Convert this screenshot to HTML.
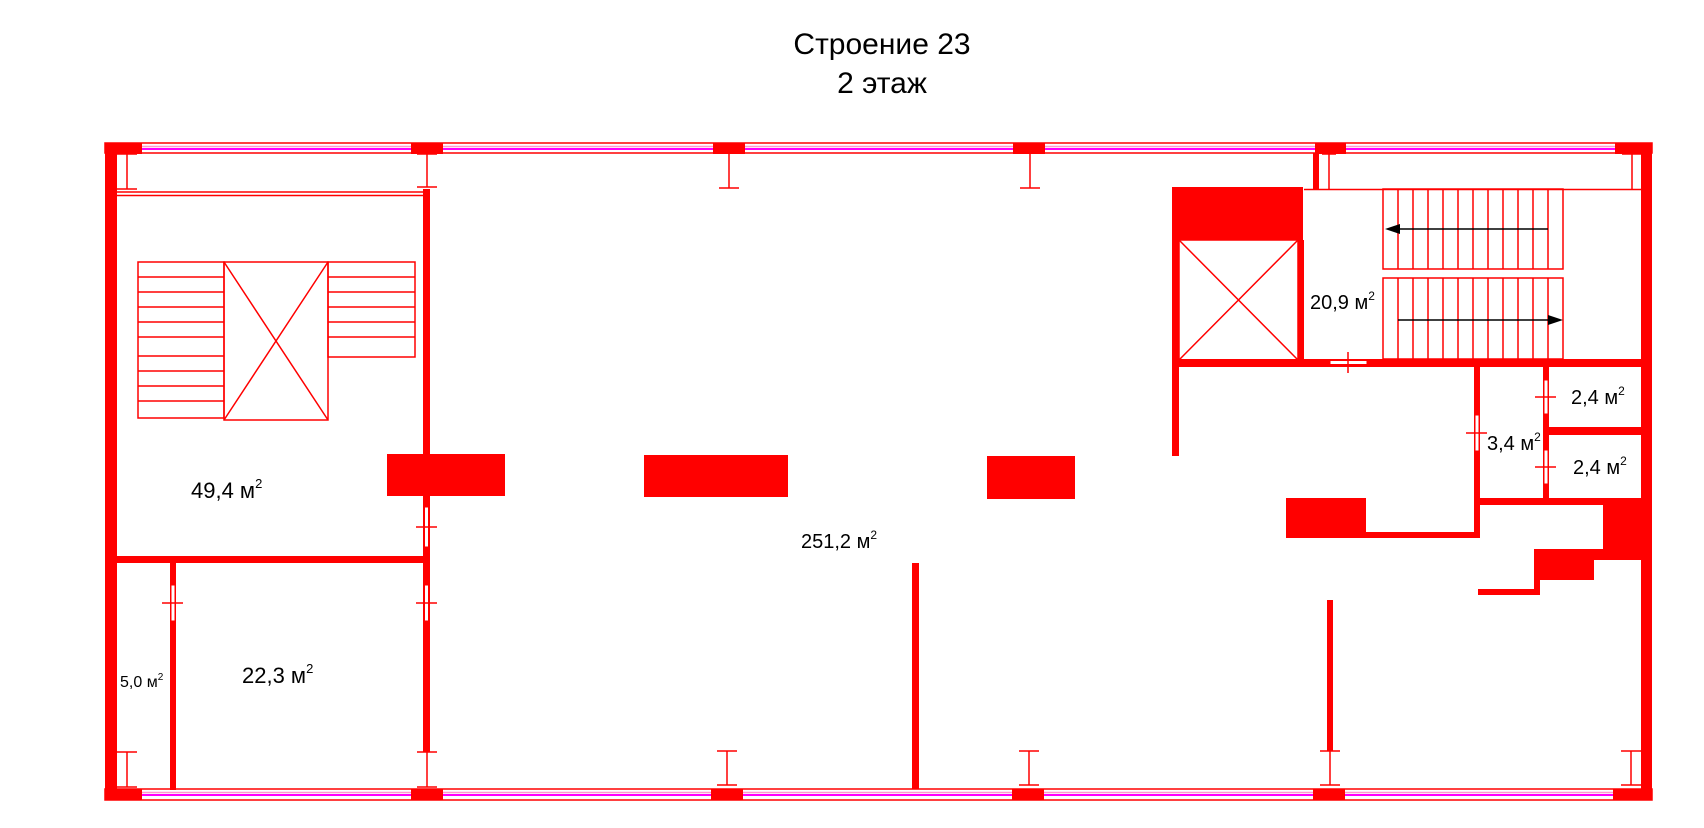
<!DOCTYPE html>
<html><head><meta charset="utf-8"><style>
html,body{margin:0;padding:0;background:#fff;}
svg{display:block;}
text{font-family:"Liberation Sans",sans-serif;fill:#000;}
</style></head><body>
<svg width="1704" height="828" viewBox="0 0 1704 828" xmlns="http://www.w3.org/2000/svg">
<text x="882" y="54" font-size="30" text-anchor="middle">Строение 23</text>
<text x="882" y="93" font-size="30" text-anchor="middle">2 этаж</text>

<g>
  <rect x="105" y="143" width="1547" height="10" fill="#fff" stroke="#f00" stroke-width="1.5"/>
  <line x1="105" y1="146.5" x2="1652" y2="146.5" stroke="#f9c" stroke-width="1.5"/>
  <line x1="105" y1="149" x2="1652" y2="149" stroke="#f0f" stroke-width="2"/>
  <rect x="105" y="789" width="1547" height="11" fill="#fff" stroke="#f00" stroke-width="1.5"/>
  <line x1="105" y1="792.5" x2="1652" y2="792.5" stroke="#f9c" stroke-width="1.5"/>
  <line x1="105" y1="795" x2="1652" y2="795" stroke="#f0f" stroke-width="2"/>
</g>
<g fill="#f00">
  <rect x="105" y="143" width="12" height="657"/>
  <rect x="1641" y="143" width="11" height="657"/>
  <rect x="105" y="143" width="37" height="11"/>
  <rect x="411" y="143" width="32" height="11"/>
  <rect x="713" y="143" width="32" height="11"/>
  <rect x="1013" y="143" width="32" height="11"/>
  <rect x="1315" y="143" width="31" height="11"/>
  <rect x="1615" y="143" width="37" height="11"/>
  <rect x="105" y="789" width="37" height="11"/>
  <rect x="411" y="789" width="32" height="11"/>
  <rect x="711" y="789" width="32" height="11"/>
  <rect x="1012" y="789" width="32" height="11"/>
  <rect x="1313" y="789" width="32" height="11"/>
  <rect x="1613" y="789" width="39" height="11"/>
  <rect x="387" y="454" width="118" height="42"/>
  <rect x="644" y="455" width="144" height="42"/>
  <rect x="987" y="456" width="88" height="43"/>
  <rect x="423" y="189" width="7" height="563"/>
  <rect x="117" y="556" width="313" height="7"/>
  <rect x="170" y="563" width="6" height="227"/>
  <rect x="912" y="563" width="7" height="226"/>
  <rect x="1327" y="600" width="6" height="151"/>
  <rect x="1313" y="153" width="6" height="36"/>
  <rect x="1172" y="187" width="131" height="53"/>
  <rect x="1172" y="187" width="7" height="269"/>
  <rect x="1298" y="240" width="6" height="120"/>
  <rect x="1172" y="359" width="469" height="8"/>
  <rect x="1474" y="367" width="6" height="171"/>
  <rect x="1543" y="367" width="6" height="138"/>
  <rect x="1549" y="427" width="92" height="8"/>
  <rect x="1480" y="498" width="161" height="7"/>
  <rect x="1366" y="532" width="114" height="6"/>
  <rect x="1286" y="498" width="80" height="40"/>
  <polygon points="1603,505 1641,505 1641,560 1594,560 1594,580 1540,580 1540,595 1478,595 1478,589 1534,589 1534,549 1603,549"/>
</g>
<g fill="none" stroke="#f00" stroke-width="1.5">
  <path d="M127 153V189M117 154H137M117 189H137"/>
  <path d="M427 154V187M417 154H437M417 187H437"/>
  <path d="M729 154V188M719 188H739"/>
  <path d="M1030 154V188M1020 188H1040"/>
  <path d="M1329 154V189M1322 154H1336"/>
  <path d="M1632 153V189M1622 154H1641"/>
  <path d="M127 752V787M117 752H137M117 787H137"/>
  <path d="M427 752V787M417 752H437M417 787H437"/>
  <path d="M727 751V785M717 751H737M717 785H737"/>
  <path d="M1029 751V785M1019 751H1039M1019 785H1039"/>
  <path d="M1330 751V785M1320 751H1340M1320 785H1340"/>
  <path d="M1631 751V785M1621 751H1641M1621 785H1641"/>
  <path d="M117 192H423M117 195.5H423"/>
  <rect x="138" y="262" width="86" height="156"/>
  <path d="M138 277H224M138 292H224M138 307H224M138 322H224M138 337H224M138 356H224M138 371H224M138 386H224M138 401H224"/>
  <rect x="224" y="262" width="104" height="158"/>
  <path d="M224 262L328 420M328 262L224 420"/>
  <rect x="328" y="262" width="87" height="95"/>
  <path d="M328 277H415M328 292H415M328 307H415M328 322H415M328 337H415"/>
  <rect x="1179" y="240" width="119" height="120"/>
  <path d="M1179 240L1298 360M1298 240L1179 360"/>
  <path d="M1304 189.5H1641"/>
  <rect x="1383" y="189" width="180" height="80"/>
  <rect x="1383" y="278" width="180" height="81"/>
  <path d="M1398 189V269M1413 189V269M1428 189V269M1443 189V269M1458 189V269M1473 189V269M1488 189V269M1503 189V269M1518 189V269M1533 189V269M1548 189V269"/>
  <path d="M1398 278V359M1413 278V359M1428 278V359M1443 278V359M1458 278V359M1473 278V359M1488 278V359M1503 278V359M1518 278V359M1533 278V359M1548 278V359"/>
</g>
<g>
  <rect x="424.5" y="507" width="4" height="40" fill="#fff" stroke="#f00" stroke-width="1"/>
  <line x1="416" y1="527" x2="437" y2="527" stroke="#f00" stroke-width="1.5"/>
  <rect x="424.5" y="585" width="4" height="36" fill="#fff" stroke="#f00" stroke-width="1"/>
  <line x1="416" y1="603" x2="437" y2="603" stroke="#f00" stroke-width="1.5"/>
  <rect x="171" y="585" width="4" height="36" fill="#fff" stroke="#f00" stroke-width="1"/>
  <line x1="162" y1="603" x2="183" y2="603" stroke="#f00" stroke-width="1.5"/>
  <rect x="1330" y="360.5" width="37" height="4" fill="#fff" stroke="#f00" stroke-width="1"/>
  <line x1="1348" y1="352" x2="1348" y2="373" stroke="#f00" stroke-width="1.5"/>
  <rect x="1475" y="415" width="4" height="36" fill="#fff" stroke="#f00" stroke-width="1"/>
  <line x1="1466" y1="433" x2="1487" y2="433" stroke="#f00" stroke-width="1.5"/>
  <rect x="1544" y="380" width="4" height="34" fill="#fff" stroke="#f00" stroke-width="1"/>
  <line x1="1535" y1="397" x2="1556" y2="397" stroke="#f00" stroke-width="1.5"/>
  <rect x="1544" y="450" width="4" height="34" fill="#fff" stroke="#f00" stroke-width="1"/>
  <line x1="1535" y1="467" x2="1556" y2="467" stroke="#f00" stroke-width="1.5"/>
</g>
<g stroke="#000" stroke-width="1.5" fill="#000">
  <line x1="1548" y1="229" x2="1398" y2="229"/>
  <polygon points="1385,229 1400,224 1400,234" stroke="none"/>
  <line x1="1398" y1="320" x2="1550" y2="320"/>
  <polygon points="1563,320 1548,315 1548,325" stroke="none"/>
</g>
<g font-size="20">
  <text x="191" y="498" font-size="22">49,4 м<tspan font-size="13" dy="-10">2</tspan></text>
  <text x="242" y="683" font-size="22">22,3 м<tspan font-size="13" dy="-10">2</tspan></text>
  <text x="801" y="548">251,2 м<tspan font-size="12" dy="-9">2</tspan></text>
  <text x="1310" y="309">20,9 м<tspan font-size="12" dy="-9">2</tspan></text>
  <text x="1487" y="450">3,4 м<tspan font-size="12" dy="-9">2</tspan></text>
  <text x="1571" y="404">2,4 м<tspan font-size="12" dy="-9">2</tspan></text>
  <text x="1573" y="474">2,4 м<tspan font-size="12" dy="-9">2</tspan></text>
</g>
<text x="120" y="687" font-size="16">5,0 м<tspan font-size="10" dy="-7">2</tspan></text>
</svg>
</body></html>
